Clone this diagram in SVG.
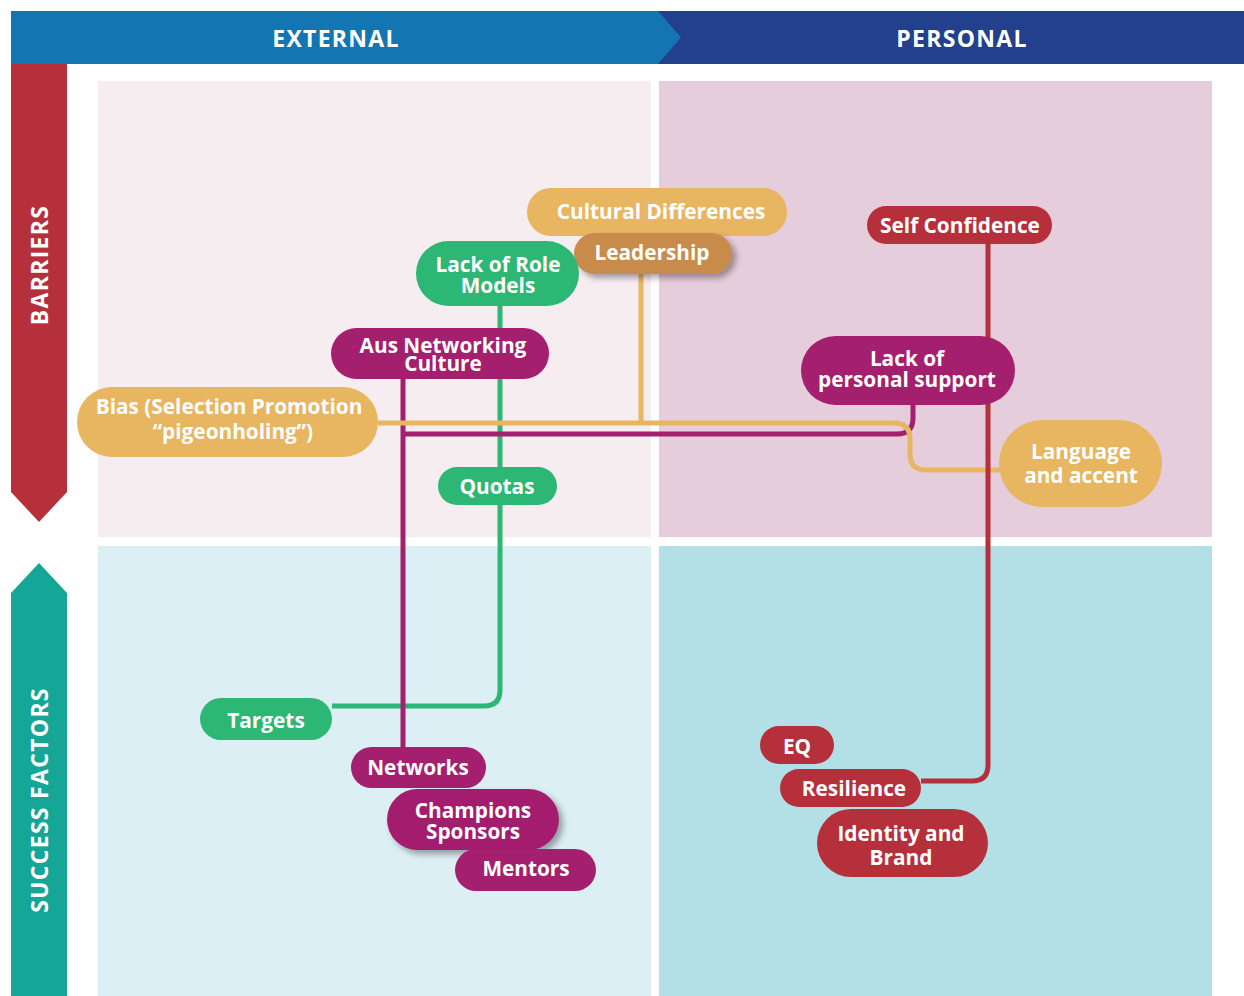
<svg xmlns="http://www.w3.org/2000/svg" width="1244" height="996" viewBox="0 0 1244 996">
<defs>
<style>
.t{font-family:"Open Sans","Liberation Sans",sans-serif;font-weight:700;font-size:20.8px;fill:#fff;text-anchor:middle;dominant-baseline:central}
.h{font-family:"Open Sans","Liberation Sans",sans-serif;font-weight:700;font-size:23px;letter-spacing:1.3px;fill:#fff;text-anchor:middle;dominant-baseline:central}
.c{fill:none;stroke-width:5;stroke-linejoin:round}
.or{fill:#e8b560}.br{fill:#c98b4c}.gr{fill:#2db774}.pu{fill:#a41f6e}.rd{fill:#b5303a}
</style>
<filter id="sh" x="-20%" y="-30%" width="140%" height="170%">
<feDropShadow dx="4" dy="4" stdDeviation="3" flood-color="#000" flood-opacity="0.35"/>
</filter>
</defs>
<rect width="1244" height="996" fill="#fff"/>
<g id="quadrants">
<rect x="98" y="81" width="553" height="456" fill="#f6edf1"/>
<rect x="659" y="81" width="553" height="456" fill="#e6cddb"/>
<rect x="98" y="546" width="553" height="450" fill="#dceff4"/>
<rect x="659" y="546" width="553" height="450" fill="#b3e0e6"/>
</g>
<g id="header">
<rect x="658" y="11" width="586" height="53" fill="#22408c"/>
<polygon points="11,11 658,11 681,37.5 658,64 11,64" fill="#1376b3"/>
<text class="h" x="336" y="38">EXTERNAL</text>
<text class="h" x="962" y="38">PERSONAL</text>
</g>
<g id="side">
<polygon points="11,64 67,64 67,492 39,522 11,492" fill="#b5303a"/>
<text class="h" transform="translate(39,265) rotate(-90)">BARRIERS</text>
<polygon points="39,563 67,593 67,996 11,996 11,593" fill="#15a698"/>
<text class="h" transform="translate(39,800) rotate(-90)">SUCCESS FACTORS</text>
</g>
<g id="connectors">
<path class="c" stroke="#2db774" d="M500,306 V690 Q500,706 484,706 H332"/>
<path class="c" stroke="#a41f6e" d="M403,379 V747 M403,434 H897 Q913,434 913,418 V405"/>
<path class="c" stroke="#e8b560" d="M378,423 H894 Q910,423 910,439 V454 Q910,470 926,470 H1000 M641,274 V423"/>
<path class="c" stroke="#b5303a" d="M988,244 V765 Q988,781 972,781 H921"/>
</g>
<g id="n-cultural"><rect class="or" x="527" y="188" width="260" height="48" rx="24"/><text class="t" x="661" y="211">Cultural Differences</text></g>
<g id="n-leadership"><rect class="br" x="574" y="233" width="158" height="41" rx="20.5" filter="url(#sh)"/><text class="t" x="652" y="252">Leadership</text></g>
<g id="n-rolemodels"><rect class="gr" x="416" y="241" width="163" height="65" rx="32.5"/><text class="t"><tspan x="498" y="264">Lack of Role</tspan><tspan x="498" y="285">Models</tspan></text></g>
<g id="n-ausnet"><rect class="pu" x="331" y="328" width="218" height="51" rx="25.5"/><text class="t"><tspan x="443" y="345">Aus Networking</tspan><tspan x="443" y="363">Culture</tspan></text></g>
<g id="n-bias"><rect class="or" x="77" y="387" width="301" height="70" rx="35"/><text class="t"><tspan x="229" y="406">Bias (Selection Promotion</tspan><tspan x="233" y="431">“pigeonholing”)</tspan></text></g>
<g id="n-quotas"><rect class="gr" x="438" y="467" width="119" height="38" rx="19"/><text class="t" x="497" y="486">Quotas</text></g>
<g id="n-selfconf"><rect class="rd" x="867" y="206" width="185" height="38" rx="19"/><text class="t" x="960" y="225">Self Confidence</text></g>
<g id="n-personal"><rect class="pu" x="801" y="336" width="214" height="69" rx="34.5"/><text class="t"><tspan x="907" y="358">Lack of</tspan><tspan x="907" y="379">personal support</tspan></text></g>
<g id="n-language"><rect class="or" x="999" y="420" width="163" height="87" rx="43.5"/><text class="t"><tspan x="1081" y="451">Language</tspan><tspan x="1081" y="475">and accent</tspan></text></g>
<g id="n-targets"><rect class="gr" x="200" y="698" width="132" height="42" rx="21"/><text class="t" x="266" y="720">Targets</text></g>
<g id="n-networks"><rect class="pu" x="351" y="747" width="135" height="41" rx="20.5"/><text class="t" x="418" y="767">Networks</text></g>
<g id="n-champions"><rect class="pu" x="387" y="789" width="172" height="61" rx="30.5" filter="url(#sh)"/><text class="t"><tspan x="473" y="810">Champions</tspan><tspan x="473" y="831">Sponsors</tspan></text></g>
<g id="n-mentors"><rect class="pu" x="455" y="849" width="141" height="42" rx="21"/><text class="t" x="526" y="868">Mentors</text></g>
<g id="n-eq"><rect class="rd" x="760" y="726" width="74" height="38" rx="19"/><text class="t" x="797" y="746">EQ</text></g>
<g id="n-resilience"><rect class="rd" x="780" y="769" width="141" height="38" rx="19"/><text class="t" x="854" y="788">Resilience</text></g>
<g id="n-identity"><rect class="rd" x="817" y="809" width="171" height="68" rx="34"/><text class="t"><tspan x="901" y="833">Identity and</tspan><tspan x="901" y="857">Brand</tspan></text></g>
</svg>
